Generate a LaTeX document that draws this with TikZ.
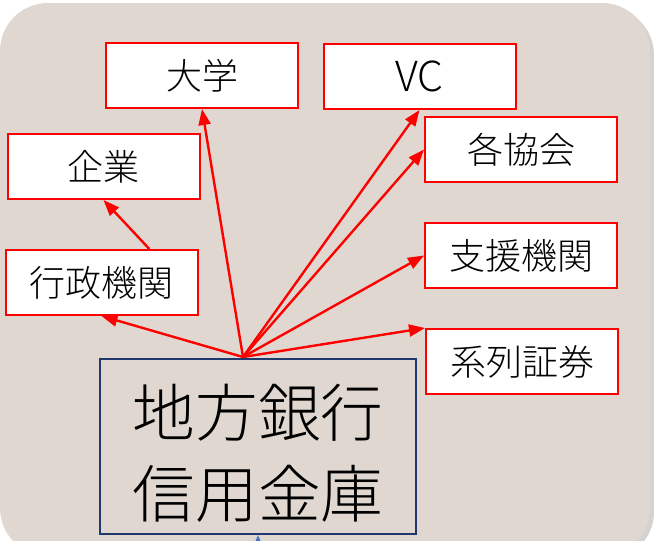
\documentclass[tikz,border=0pt]{standalone}
\usepackage{fontspec}
\setmainfont{Noto Sans CJK JP}[UprightFont=* Light]
\usetikzlibrary{arrows.meta,shadows}
\definecolor{bgbeige}{RGB}{224,216,208}
\definecolor{bankblue}{RGB}{31,56,110}
\definecolor{feedblue}{RGB}{68,114,196}

\begin{document}
\begin{tikzpicture}[x=0.75pt,y=-0.75pt,
    org/.style={draw=red,line width=1.5pt,fill=white,minimum width=144pt,
      minimum height=48.75pt,inner sep=0pt,font=\fontsize{27}{30}\selectfont},
    link/.style={red,line width=1.8pt,-{Triangle[length=12pt,width=9pt]}}]
  \useasboundingbox (0,0) rectangle (654,540);
  \fill[bgbeige,rounded corners=36pt,
    drop shadow={shadow xshift=3pt,shadow yshift=-3pt,opacity=0.35,fill=gray}]
    (0,3) rectangle (650,556);

  \node[org] (daigaku) at (202,75.5) {大学};
  \node[org] (vc) at (419.5,76.5) {\fontsize{31}{34}\selectfont VC};
  \node[org] (kigyo) at (103.5,166.5) {企業};
  \node[org] (kyokai) at (521,149.5) {各協会};
  \node[org] (gyosei) at (101.5,282.5) {行政機関};
  \node[org] (shien) at (521,255.5) {支援機関};
  \node[org] (keiretsu) at (522,361.5) {系列証券};
  \node[draw=bankblue,line width=1.5pt,minimum width=237pt,minimum height=131.25pt,
    align=center,font=\fontsize{47}{61}\selectfont] (bank) at (258,446.5)
    {\rule{0pt}{49pt}地方銀行\\信用金庫};

  \coordinate (hub) at (243,357);
  \coordinate (feed) at (258,600);

  \draw[link] (hub) -- (gyosei.south);
  \draw[link] (gyosei.35) -- (kigyo.south);
  \draw[link] (hub) -- (daigaku.south);
  \draw[link] (hub) -- (vc.south);
  \draw[link] (hub) -- (kyokai.west);
  \draw[link] (hub) -- (shien.west);
  \draw[link] (hub) -- (keiretsu.north west);
  \draw[feedblue,line width=1.5pt,-{Triangle[length=10pt,width=8pt]}] (feed) -- (bank.south);
\end{tikzpicture}
\end{document}
